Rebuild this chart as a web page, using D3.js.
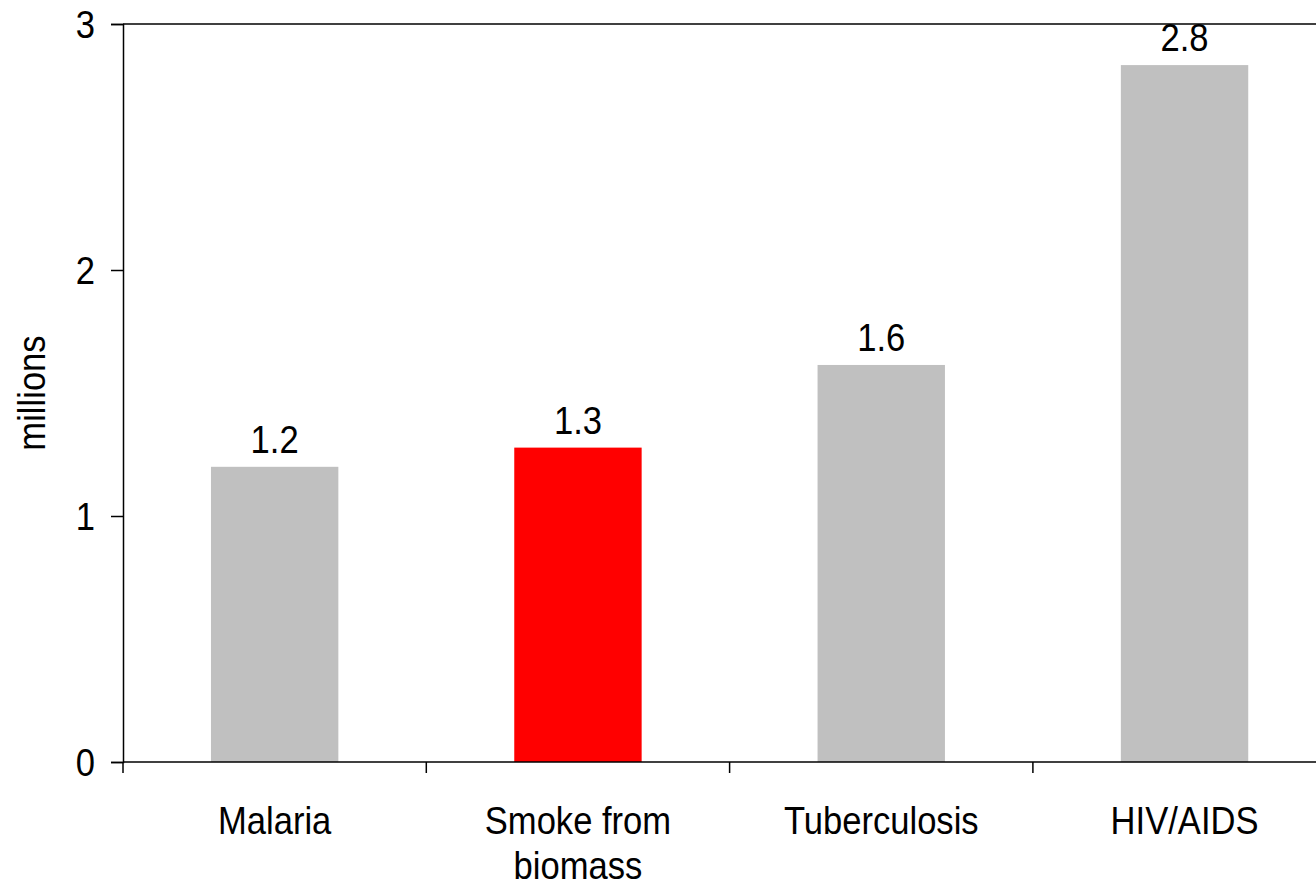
<!DOCTYPE html>
<html><head><meta charset="utf-8">
<script src="https://cdn.jsdelivr.net/npm/d3@7"></script>
<style>
html,body{margin:0;padding:0;background:#fff;}
svg text{font-family:"Liberation Sans","Arial",sans-serif;fill:#000;}
</style></head>
<body>
<svg id="chart" width="1316" height="887"></svg>
<script>
(function () {
const categories = [["Malaria"], ["Smoke from", "biomass"], ["Tuberculosis"], ["HIV/AIDS"]];
const values = [1.2, 1.278, 1.614, 2.833];
const valueLabels = ["1.2", "1.3", "1.6", "2.8"];
const colors = ["#c0c0c0", "#ff0000", "#c0c0c0", "#c0c0c0"];
const yTicks = [0, 1, 2, 3];
const yTitle = "millions";

const FS = 38, SX = 0.91;
const svg = d3.select("#chart");
const mLeft = 123, mTop = 24, mBottom = 762;
const step = 303.3;
const mRight = mLeft + step * categories.length;

const x = d3.scaleBand().domain(d3.range(categories.length)).range([mLeft, mRight]).paddingInner(0.58).paddingOuter(0.29);
const y = d3.scaleLinear().domain([0, 3]).range([mBottom, mTop]);

svg.selectAll("rect.bar").data(values).join("rect")
  .attr("class", "bar")
  .attr("x", (d, i) => x(i)).attr("width", x.bandwidth())
  .attr("y", d => y(d)).attr("height", d => y(0) - y(d))
  .attr("fill", (d, i) => colors[i]);

svg.selectAll("text.val").data(values).join("text")
  .attr("class", "val")
  .attr("transform", (d, i) => `translate(${x(i) + x.bandwidth() / 2},${y(d) - 14}) scale(${SX},1)`)
  .attr("text-anchor", "middle").attr("font-size", FS)
  .text((d, i) => valueLabels[i]);

svg.append("line").attr("x1", mLeft).attr("x2", 1316).attr("y1", y(3)).attr("y2", y(3))
  .attr("stroke", "#000").attr("stroke-width", 1.5);

const yAxis = svg.append("g").attr("transform", `translate(${mLeft},0)`)
  .call(d3.axisLeft(y).tickValues(yTicks).tickSize(12).tickPadding(14).tickFormat(d3.format("d")));
yAxis.select(".domain").attr("stroke", "#000").attr("stroke-width", 1.5);
yAxis.selectAll(".tick line").attr("stroke", "#000").attr("stroke-width", 1.5);
yAxis.selectAll("text").attr("font-size", FS).attr("font-family", null).attr("fill", "#000")
  .attr("x", -28 / SX).attr("dy", "0.36em").attr("transform", `scale(${SX},1)`);

const xTickScale = d3.scaleLinear().domain([0, categories.length]).range([mLeft, mRight]);
svg.append("line").attr("x1", mLeft).attr("x2", 1316).attr("y1", mBottom).attr("y2", mBottom)
  .attr("stroke", "#000").attr("stroke-width", 1.5);
svg.selectAll("line.xt").data(d3.range(categories.length + 1)).join("line")
  .attr("class", "xt")
  .attr("x1", d => xTickScale(d)).attr("x2", d => xTickScale(d))
  .attr("y1", mBottom).attr("y2", mBottom + 11)
  .attr("stroke", "#000").attr("stroke-width", 1.5);

const cl = svg.selectAll("text.cat").data(categories).join("text")
  .attr("class", "cat")
  .attr("transform", (d, i) => `translate(${x(i) + x.bandwidth() / 2},0) scale(${SX},1)`)
  .attr("text-anchor", "middle").attr("font-size", FS);
cl.each(function (lines, i) {
  const t = d3.select(this);
  lines.forEach((ln, j) => {
    t.append("tspan").attr("x", 0).attr("y", 834 + j * 45).text(ln);
  });
});

svg.append("text").attr("transform", `translate(45,${(mTop + mBottom) / 2}) rotate(-90) scale(${SX},1)`)
  .attr("text-anchor", "middle").attr("font-size", FS).text(yTitle);
})();
</script>
</body></html>
